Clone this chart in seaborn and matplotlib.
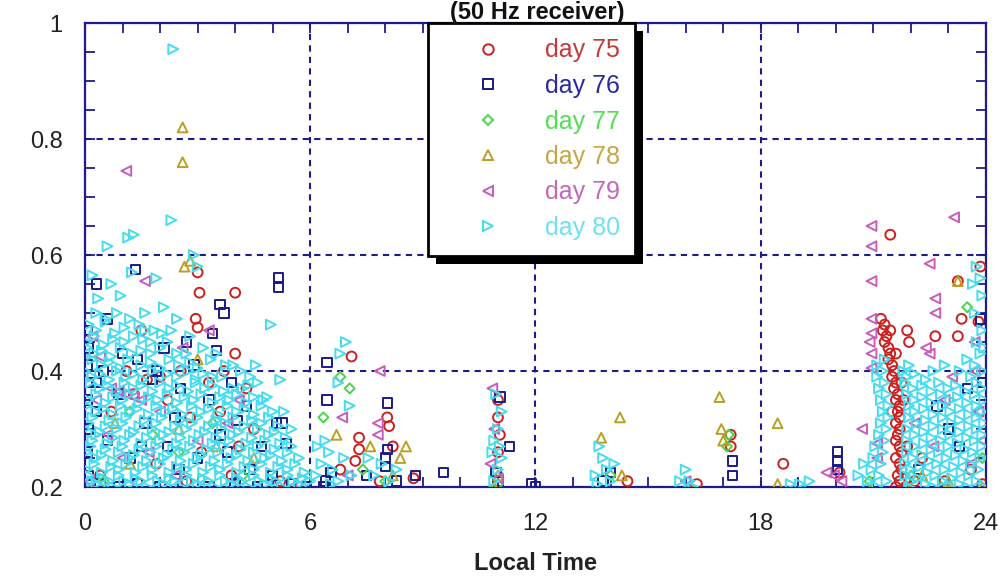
import pandas as pd
import matplotlib
matplotlib.use('agg')
import matplotlib.pyplot as plt
import seaborn as sns
from matplotlib.ticker import MultipleLocator, FixedLocator, FixedFormatter
from matplotlib.lines import Line2D
from matplotlib.patches import Rectangle

# chart values (local time in hours, value)
day_labels = ["day 75", "day 76", "day 77", "day 78", "day 79", "day 80"]

day75 = [(3.0, 0.57), (3.05, 0.535), (4.0, 0.535), (2.95, 0.49), (3.0, 0.475), (1.5, 0.47),
         (4.0, 0.43), (2.55, 0.40), (1.65, 0.385), (1.1, 0.40), (2.0, 0.39), (3.3, 0.38),
         (3.7, 0.40), (2.8, 0.32), (4.3, 0.37), (3.6, 0.33), (4.5, 0.30), (2.2, 0.35),
         (1.3, 0.36), (0.7, 0.33), (3.1, 0.26), (4.1, 0.27), (1.9, 0.24), (0.4, 0.22),
         (2.7, 0.21), (3.9, 0.22), (5.2, 0.21),
         (7.1, 0.425), (8.05, 0.32), (8.1, 0.305), (7.3, 0.285), (7.3, 0.265), (7.2, 0.245),
         (6.8, 0.23), (7.85, 0.21), (8.75, 0.215), (8.2, 0.27), (11.0, 0.35), (11.0, 0.32),
         (11.05, 0.29), (11.0, 0.26), (14.45, 0.21), (16.3, 0.205), (17.2, 0.27), (17.2, 0.29),
         (18.6, 0.24), (20.1, 0.225), (21.45, 0.635), (21.9, 0.47), (21.95, 0.45),
         (21.2, 0.49), (21.3, 0.48), (21.25, 0.47), (21.35, 0.46), (21.3, 0.45), (21.4, 0.44),
         (21.45, 0.43), (21.4, 0.42), (21.5, 0.41), (21.55, 0.40), (21.5, 0.39), (21.6, 0.38),
         (21.55, 0.37), (21.65, 0.36), (21.6, 0.35), (21.7, 0.34), (21.65, 0.33), (21.7, 0.32),
         (21.6, 0.31), (21.7, 0.30), (21.65, 0.29), (21.6, 0.28), (21.7, 0.27), (21.75, 0.26),
         (21.6, 0.25), (21.7, 0.24), (21.75, 0.23), (21.65, 0.22), (21.7, 0.21), (21.6, 0.20),
         (21.85, 0.20), (21.45, 0.47), (21.6, 0.43), (21.75, 0.38), (21.8, 0.35), (21.5, 0.33),
         (23.35, 0.49), (23.25, 0.46), (22.65, 0.46), (23.25, 0.555), (23.85, 0.58), (23.8, 0.485),
         (22.3, 0.25), (22.9, 0.21), (23.6, 0.23), (23.9, 0.205), (21.9, 0.27), (22.1, 0.21)]

day76 = [(0.3, 0.55), (1.35, 0.575), (5.15, 0.56), (5.15, 0.545), (3.6, 0.515), (3.7, 0.50),
         (3.4, 0.465), (0.6, 0.49), (1.4, 0.42), (1.8, 0.385), (2.55, 0.37), (3.5, 0.435),
         (4.05, 0.315), (5.1, 0.31), (5.25, 0.31), (5.35, 0.275),
         (0.05, 0.47), (0.1, 0.44), (0.05, 0.41), (0.1, 0.38), (0.05, 0.35), (0.1, 0.30),
         (0.05, 0.26), (0.1, 0.22), (0.4, 0.205), (0.9, 0.2), (1.4, 0.205), (2.0, 0.2),
         (2.6, 0.205), (3.3, 0.2), (4.0, 0.205), (4.6, 0.2), (5.5, 0.205), (5.9, 0.2),
         (0.3, 0.33), (0.9, 0.36), (1.6, 0.31), (2.2, 0.27), (3.0, 0.25), (3.6, 0.29),
         (4.3, 0.34), (0.6, 0.28), (1.2, 0.25), (1.9, 0.40), (2.9, 0.41), (3.9, 0.38),
         (4.4, 0.23), (5.0, 0.22), (2.4, 0.32), (1.0, 0.43), (0.5, 0.40), (3.3, 0.35),
         (2.7, 0.45), (2.1, 0.44), (0.3, 0.38), (1.5, 0.27), (3.8, 0.26), (4.7, 0.27), (2.5, 0.23),
         (6.45, 0.415), (6.45, 0.35), (8.05, 0.345), (8.05, 0.265), (8.0, 0.25), (8.0, 0.235),
         (6.55, 0.225), (6.4, 0.21), (6.35, 0.2), (8.8, 0.22), (9.55, 0.225), (11.3, 0.27),
         (11.05, 0.355), (10.95, 0.225), (11.0, 0.21), (11.9, 0.205), (12.0, 0.2), (14.0, 0.225),
         (13.8, 0.21), (7.5, 0.22), (8.3, 0.21),
         (17.25, 0.245), (17.25, 0.22), (20.05, 0.26), (20.05, 0.245), (20.05, 0.23),
         (22.7, 0.34), (23.5, 0.37), (23.85, 0.49), (23.3, 0.27), (23.9, 0.38), (22.2, 0.23),
         (23.0, 0.30)]

day77 = [(6.8, 0.39), (7.05, 0.37), (6.35, 0.32), (0.5, 0.21), (1.8, 0.29), (2.5, 0.26),
         (4.2, 0.22), (3.4, 0.31), (8.0, 0.21), (7.4, 0.23), (11.0, 0.205), (14.0, 0.22),
         (17.15, 0.29), (17.1, 0.27), (20.9, 0.21), (22.0, 0.22), (23.5, 0.51), (23.9, 0.25),
         (22.8, 0.2), (1.2, 0.33), (16.1, 0.2)]

day78 = [(2.6, 0.82), (2.6, 0.76), (2.65, 0.58), (2.8, 0.59), (3.0, 0.42), (2.5, 0.30),
         (1.2, 0.24), (3.5, 0.27), (4.5, 0.25), (0.8, 0.31), (6.7, 0.29), (8.55, 0.27),
         (8.4, 0.25), (8.2, 0.22), (7.6, 0.27), (10.9, 0.2), (11.0, 0.22), (14.25, 0.32),
         (13.75, 0.285), (14.3, 0.22), (16.9, 0.355), (16.95, 0.30), (17.0, 0.28), (18.45, 0.31),
         (18.45, 0.205), (23.25, 0.555), (23.9, 0.20), (23.0, 0.21), (22.3, 0.22), (21.9, 0.2)]

day79 = [(1.1, 0.745), (1.6, 0.555), (0.4, 0.425), (0.7, 0.37), (0.9, 0.365), (1.1, 0.36),
         (1.3, 0.355), (1.5, 0.35), (0.2, 0.46), (0.3, 0.35), (2.6, 0.44), (2.0, 0.33),
         (3.0, 0.28), (3.8, 0.31), (2.4, 0.22), (1.0, 0.25), (0.1, 0.21), (4.1, 0.35),
         (3.3, 0.47), (5.5, 0.2), (0.6, 0.29), (1.7, 0.26),
         (7.85, 0.40), (7.8, 0.31), (7.8, 0.29), (10.85, 0.37), (10.8, 0.24), (6.85, 0.32),
         (10.9, 0.30), (11.0, 0.215), (7.0, 0.22), (16.0, 0.21), (19.75, 0.225), (19.95, 0.22),
         (20.15, 0.21), (20.95, 0.65), (20.95, 0.615), (20.95, 0.555), (23.15, 0.665),
         (22.5, 0.585), (22.65, 0.525), (22.65, 0.50), (22.4, 0.44), (22.5, 0.43), (20.95, 0.49),
         (20.95, 0.465), (20.9, 0.45), (20.95, 0.43), (20.95, 0.405), (20.7, 0.30), (21.1, 0.275),
         (21.1, 0.25), (23.7, 0.45), (23.7, 0.40), (23.8, 0.33), (23.9, 0.28), (23.6, 0.24),
         (22.9, 0.35), (22.1, 0.31), (23.1, 0.39), (22.6, 0.27)]

day80 = [
    # scattered early points
    (2.35, 0.955), (2.3, 0.66), (1.3, 0.635), (1.15, 0.63), (0.6, 0.615), (2.9, 0.60), (3.0, 0.58),
    (0.7, 0.55), (0.95, 0.53), (1.25, 0.57), (0.35, 0.525), (0.2, 0.565), (1.9, 0.56), (2.1, 0.51),
    (2.45, 0.49), (1.85, 0.47), (4.95, 0.48), (4.55, 0.41), (5.2, 0.385), (4.6, 0.38), (4.85, 0.355),
    (5.3, 0.33), (5.5, 0.30),
    # dense block, 0-6 h
    (0.3, 0.50), (0.85, 0.50), (1.6, 0.50), (0.55, 0.49), (1.2, 0.49),
    (0.1, 0.48), (0.55, 0.485), (1.05, 0.475), (1.45, 0.48), (2.3, 0.47),
    (0.3, 0.47), (0.8, 0.465), (1.6, 0.47), (2.05, 0.465),
    (0.25, 0.46), (0.75, 0.455), (1.3, 0.46), (1.75, 0.45), (2.8, 0.46),
    (0.05, 0.45), (0.5, 0.445), (1.05, 0.45), (1.55, 0.455), (2.2, 0.45),
    (0.05, 0.44), (0.45, 0.435), (0.95, 0.44), (1.5, 0.435), (2.0, 0.44), (2.45, 0.43), (3.15, 0.44),
    (0.25, 0.43), (0.7, 0.425), (1.25, 0.43), (1.75, 0.43), (2.7, 0.43), (3.5, 0.43),
    (0.2, 0.42), (0.65, 0.415), (1.15, 0.42), (1.75, 0.415), (2.25, 0.42), (2.8, 0.415), (3.35, 0.42),
    (3.75, 0.41),
    (0.45, 0.41), (0.95, 0.405), (1.5, 0.41), (2.0, 0.405), (2.5, 0.41), (3.0, 0.405), (3.95, 0.41),
    (0.0, 0.40), (0.4, 0.395), (0.85, 0.40), (1.3, 0.395), (1.8, 0.40), (2.2, 0.395), (2.75, 0.40),
    (3.15, 0.395), (3.65, 0.39), (4.15, 0.40),
    (0.2, 0.39), (0.65, 0.385), (1.1, 0.39), (1.55, 0.385), (2.45, 0.39), (2.95, 0.385), (3.4, 0.39),
    (4.4, 0.39),
    (0.15, 0.38), (0.6, 0.375), (1.05, 0.38), (1.5, 0.375), (2.0, 0.38), (2.45, 0.375), (2.95, 0.38),
    (3.4, 0.375), (3.95, 0.37), (4.35, 0.375),
    (0.4, 0.37), (0.85, 0.365), (1.3, 0.37), (1.8, 0.365), (2.25, 0.37), (2.75, 0.365), (3.2, 0.37),
    (3.7, 0.365), (4.2, 0.37),
    (0.3, 0.36), (0.75, 0.355), (1.2, 0.36), (1.7, 0.355), (2.2, 0.36), (2.65, 0.355), (3.1, 0.36),
    (3.6, 0.355), (4.05, 0.36), (4.5, 0.355),
    (0.1, 0.35), (0.55, 0.345), (1.0, 0.35), (1.45, 0.345), (1.95, 0.35), (2.45, 0.345), (2.9, 0.35),
    (3.4, 0.345), (3.85, 0.35), (4.3, 0.345), (4.75, 0.35),
    (0.05, 0.34), (0.5, 0.335), (0.95, 0.34), (1.4, 0.335), (1.9, 0.34), (2.35, 0.335), (2.85, 0.34),
    (3.3, 0.335), (3.8, 0.34), (4.25, 0.335), (4.7, 0.34),
    (0.3, 0.33), (0.75, 0.325), (1.2, 0.33), (1.7, 0.325), (2.15, 0.33), (2.6, 0.325), (3.1, 0.33),
    (3.55, 0.325), (4.05, 0.33), (4.5, 0.325), (5.0, 0.33),
    (0.2, 0.32), (0.65, 0.315), (1.1, 0.32), (1.6, 0.315), (2.05, 0.32), (2.55, 0.315), (3.0, 0.32),
    (3.5, 0.315), (3.95, 0.32), (4.45, 0.315), (4.9, 0.32),
    (0.1, 0.31), (0.55, 0.305), (1.0, 0.31), (1.45, 0.305), (1.9, 0.31), (2.4, 0.305), (2.85, 0.31),
    (3.3, 0.305), (3.75, 0.31), (4.25, 0.305), (4.7, 0.31), (5.15, 0.305),
    (0.0, 0.30), (0.4, 0.295), (0.85, 0.30), (1.3, 0.295), (1.8, 0.30), (2.25, 0.295), (2.7, 0.30),
    (3.2, 0.295), (3.65, 0.30), (4.1, 0.295), (4.6, 0.30), (5.05, 0.295),
    (0.3, 0.29), (0.75, 0.285), (1.2, 0.29), (1.65, 0.285), (2.1, 0.29), (2.55, 0.285), (3.05, 0.29),
    (3.5, 0.285), (3.95, 0.29), (4.45, 0.285), (4.9, 0.29), (5.35, 0.285),
    (0.2, 0.28), (0.6, 0.275), (1.05, 0.28), (1.5, 0.275), (2.0, 0.28), (2.45, 0.275), (2.9, 0.28),
    (3.4, 0.275), (3.85, 0.28), (4.3, 0.275), (4.8, 0.28), (5.2, 0.275),
    (0.15, 0.27), (0.55, 0.265), (1.0, 0.27), (1.45, 0.265), (1.9, 0.27), (2.35, 0.265), (2.8, 0.27),
    (3.25, 0.265), (3.7, 0.27), (4.15, 0.265), (4.6, 0.27), (5.05, 0.265), (5.5, 0.27),
    (0.05, 0.26), (0.45, 0.255), (0.9, 0.26), (1.3, 0.255), (1.75, 0.26), (2.2, 0.255), (2.65, 0.26),
    (3.1, 0.255), (3.55, 0.26), (4.05, 0.255), (4.5, 0.26), (4.95, 0.255), (5.4, 0.26),
    (0.3, 0.25), (0.75, 0.245), (1.2, 0.25), (1.65, 0.245), (2.1, 0.25), (2.55, 0.245), (3.0, 0.25),
    (3.45, 0.245), (3.9, 0.25), (4.35, 0.245), (4.8, 0.25), (5.25, 0.245), (5.7, 0.25),
    (0.25, 0.24), (0.7, 0.235), (1.1, 0.24), (1.55, 0.235), (2.0, 0.24), (2.45, 0.235), (2.9, 0.24),
    (3.35, 0.235), (3.8, 0.24), (4.25, 0.235), (4.7, 0.24), (5.15, 0.235), (5.6, 0.24),
    (0.05, 0.23), (0.45, 0.225), (0.9, 0.23), (1.35, 0.225), (1.8, 0.23), (2.25, 0.225), (2.7, 0.23),
    (3.15, 0.225), (3.6, 0.23), (4.05, 0.225), (4.5, 0.23), (4.95, 0.225), (5.4, 0.23), (5.85, 0.225),
    (0.1, 0.22), (0.5, 0.215), (0.9, 0.22), (1.35, 0.215), (1.8, 0.22), (2.25, 0.215), (2.7, 0.22),
    (3.15, 0.215), (3.6, 0.22), (4.05, 0.215), (4.5, 0.22), (4.95, 0.215), (5.4, 0.22), (5.8, 0.215),
    (0.2, 0.21), (0.65, 0.21), (1.05, 0.21), (1.5, 0.21), (1.95, 0.21), (2.4, 0.21), (2.85, 0.21),
    (3.3, 0.21), (3.75, 0.21), (4.2, 0.21), (4.65, 0.21), (5.1, 0.21), (5.55, 0.21), (6.0, 0.21),
    (0.3, 0.205), (0.75, 0.2), (1.2, 0.205), (1.65, 0.2), (2.1, 0.205), (2.55, 0.2), (3.0, 0.205),
    (3.45, 0.2), (3.9, 0.205), (4.35, 0.2), (4.8, 0.205), (5.25, 0.2), (5.7, 0.205),
    # daytime groups
    (6.15, 0.22), (6.3, 0.24), (6.5, 0.26), (6.6, 0.23), (6.75, 0.21), (6.4, 0.28), (6.9, 0.25),
    (7.1, 0.22), (6.2, 0.27), (6.55, 0.205), (6.8, 0.43), (6.95, 0.45), (6.75, 0.38), (7.05, 0.34),
    (7.7, 0.22), (7.9, 0.24), (8.1, 0.21), (8.3, 0.23), (7.55, 0.25),
    (10.9, 0.21), (11.0, 0.23), (11.1, 0.25), (10.9, 0.28), (11.0, 0.30), (11.1, 0.33), (10.95, 0.36),
    (11.05, 0.27), (10.85, 0.26),
    (13.6, 0.22), (13.7, 0.27), (13.8, 0.25), (13.9, 0.23), (14.0, 0.21), (14.1, 0.24), (13.65, 0.205),
    (15.85, 0.21), (16.0, 0.23), (16.1, 0.21), (16.2, 0.2),
    (18.8, 0.205), (19.05, 0.205), (19.3, 0.21), (20.6, 0.22), (20.75, 0.24),
    # late evening block, 21-24 h
    (21.3, 0.42), (23.5, 0.42), (23.85, 0.43), (21.1, 0.41), (21.95, 0.41), (23.7, 0.41),
    (21.25, 0.40), (21.8, 0.40), (22.1, 0.395), (23.3, 0.40), (23.9, 0.40),
    (21.1, 0.39), (21.9, 0.39), (22.4, 0.385), (23.6, 0.39),
    (21.3, 0.38), (21.85, 0.38), (22.3, 0.375), (22.75, 0.38), (23.2, 0.375), (23.75, 0.38),
    (21.15, 0.37), (22.05, 0.37), (22.55, 0.365), (23.0, 0.37), (23.45, 0.365), (23.9, 0.37),
    (21.35, 0.36), (21.9, 0.36), (22.3, 0.355), (22.8, 0.36), (23.25, 0.355), (23.7, 0.36),
    (21.2, 0.35), (22.1, 0.35), (22.55, 0.345), (23.05, 0.35), (23.5, 0.345), (23.95, 0.35),
    (21.4, 0.34), (21.95, 0.34), (22.35, 0.335), (22.85, 0.34), (23.3, 0.335), (23.75, 0.34),
    (21.25, 0.33), (22.1, 0.33), (22.6, 0.325), (23.05, 0.33), (23.55, 0.325), (23.9, 0.33),
    (21.4, 0.32), (21.95, 0.32), (22.4, 0.315), (22.85, 0.32), (23.3, 0.315), (23.75, 0.32),
    (21.2, 0.31), (22.15, 0.31), (22.6, 0.305), (23.1, 0.31), (23.55, 0.305), (23.95, 0.31),
    (21.35, 0.30), (21.9, 0.30), (22.35, 0.295), (22.85, 0.30), (23.3, 0.295), (23.75, 0.30),
    (21.15, 0.29), (22.1, 0.29), (22.55, 0.285), (23.05, 0.29), (23.5, 0.285), (23.9, 0.29),
    (21.3, 0.28), (21.9, 0.28), (22.35, 0.275), (22.8, 0.28), (23.25, 0.275), (23.7, 0.28),
    (21.05, 0.27), (22.1, 0.27), (22.55, 0.265), (23.0, 0.27), (23.45, 0.265), (23.9, 0.27),
    (21.25, 0.26), (21.9, 0.26), (22.3, 0.255), (22.75, 0.26), (23.2, 0.255), (23.65, 0.26),
    (21.0, 0.25), (22.05, 0.25), (22.5, 0.245), (22.95, 0.25), (23.4, 0.245), (23.85, 0.25),
    (21.2, 0.24), (21.85, 0.24), (22.25, 0.235), (22.7, 0.24), (23.15, 0.235), (23.6, 0.24),
    (20.95, 0.23), (22.0, 0.23), (22.45, 0.225), (22.9, 0.23), (23.35, 0.225), (23.8, 0.23),
    (21.15, 0.22), (21.85, 0.22), (22.2, 0.215), (22.65, 0.22), (23.1, 0.215), (23.55, 0.22),
    (20.85, 0.21), (21.35, 0.21), (22.0, 0.21), (22.4, 0.205), (22.85, 0.21), (23.3, 0.205),
    (23.75, 0.21), (21.1, 0.20), (21.95, 0.2), (22.6, 0.2), (23.05, 0.2), (23.5, 0.2), (23.95, 0.2),
    (23.75, 0.58), (23.85, 0.56), (23.65, 0.55), (23.9, 0.53), (23.7, 0.50), (23.9, 0.47),
    (23.75, 0.45), (23.95, 0.44), (22.6, 0.40), (22.9, 0.41)]

x_ticks = [0, 6, 12, 18, 24]
y_ticks = [0.2, 0.4, 0.6, 0.8, 1.0]
y_tick_labels = ["0.2", "0.4", "0.6", "0.8", "1"]

NAVY = "#1c1c8c"
point_colors = ["#cc1f1f", "#1a1a8a", "#4fd24f", "#b9a024", "#c75cbc", "#45dcef"]
text_colors = ["#c43a3a", "#2a2aa0", "#55dd55", "#c4a648", "#c468b8", "#70e0f2"]
markers = ["o", "s", "D", "^", "<", ">"]
sizes = [50, 46, 26, 50, 50, 50]

all_days = [day75, day76, day77, day78, day79, day80]


def main():
    sns.set_theme(style="white")
    plt.rcParams["font.family"] = ["Liberation Sans", "DejaVu Sans"]

    fig = plt.figure(figsize=(10.04, 5.79), dpi=100)
    ax = fig.add_axes([85 / 1004, 92 / 579, 901 / 1004, 464 / 579])

    for label, pts, col, mk, sz in zip(day_labels, all_days, point_colors, markers, sizes):
        df = pd.DataFrame(pts, columns=["time", "value"])
        sns.scatterplot(data=df, x="time", y="value", ax=ax, marker=mk, s=sz,
                        color=col, facecolor="none", edgecolor=col, linewidth=1.4,
                        legend=False, zorder=3)

    ax.set_xlim(0, 24)
    ax.set_ylim(0.2, 1.0)
    ax.xaxis.set_major_locator(FixedLocator(x_ticks))
    ax.yaxis.set_major_locator(FixedLocator(y_ticks))
    ax.yaxis.set_major_formatter(FixedFormatter(y_tick_labels))
    ax.xaxis.set_minor_locator(MultipleLocator(1))
    ax.yaxis.set_minor_locator(MultipleLocator(0.05))
    ax.tick_params(which="both", direction="in", top=True, right=True, left=True, bottom=True,
                   color=NAVY, length=7, width=1.3)
    ax.tick_params(axis="x", which="major", labelsize=17, pad=19, labelcolor="#222222")
    ax.tick_params(axis="y", which="major", labelsize=17, pad=16, labelcolor="#222222")
    ax.grid(True, which="major", color=NAVY, linestyle=(0, (3, 2.5)), linewidth=1.5)
    for sp in ax.spines.values():
        sp.set_color(NAVY)
        sp.set_linewidth(1.6)
    ax.set_ylabel("")
    ax.set_xlabel("Local Time", fontsize=17, fontweight="bold", labelpad=12, color="#222222")

    fig.text(0.535, 0.999, "(50 Hz receiver)", ha="center", va="top",
             fontsize=17, fontweight="bold", color="#111111")

    handles = [Line2D([], [], linestyle="none", marker=mk, markersize=(5.5 if mk == "D" else 7.5),
                      markerfacecolor="none", markeredgecolor=col, markeredgewidth=1.4)
               for mk, col in zip(markers, point_colors)]
    leg = ax.legend(handles, day_labels, loc="upper left",
                    bbox_to_anchor=(428 / 1004, 1 - 23 / 579), bbox_transform=fig.transFigure,
                    borderaxespad=0, fontsize=18, frameon=True, fancybox=False, framealpha=1,
                    edgecolor="black", borderpad=0.62, labelspacing=0.46, handlelength=3.6,
                    handletextpad=0.45)
    leg.get_frame().set_linewidth(2)
    leg.set_zorder(10)
    for t, c in zip(leg.get_texts(), text_colors):
        t.set_color(c)

    fig.canvas.draw()
    bb = leg.get_frame().get_window_extent(fig.canvas.get_renderer())
    shadow = Rectangle((bb.x0 + 8, bb.y0 - 8), bb.width, bb.height, transform=None,
                       facecolor="black", edgecolor="none", clip_on=False, zorder=9.9)
    ax.add_patch(shadow)

    fig.savefig("out.png", dpi=100)
    plt.close(fig)


if __name__ == "__main__":
    main()
